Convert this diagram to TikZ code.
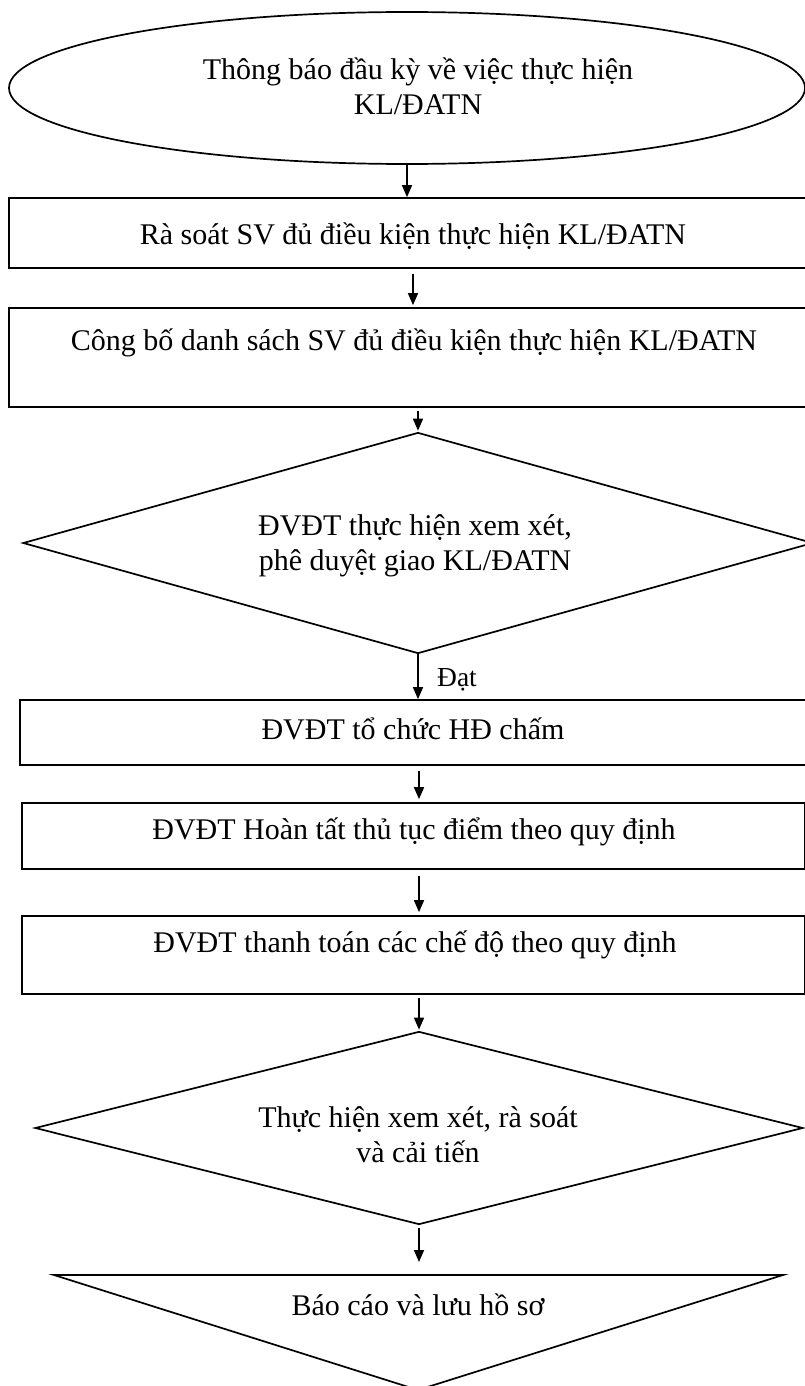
\documentclass[tikz,border=0pt]{standalone}
\usepackage{fontspec}
\setmainfont{Liberation Serif}
\usetikzlibrary{shapes.geometric,arrows.meta,calc}
\begin{document}
\begin{tikzpicture}[x=1pt,y=-1pt,
  every node/.style={font=\fontsize{30}{35}\selectfont},
  shp/.style={draw, line width=1.7, inner sep=0},
  boxst/.style={shp, rectangle},
  decis/.style={shp, diamond},
  arr/.style={-{Triangle[length=12,width=10]}, line width=1.5},
  txt/.style={align=center, inner sep=0},
  small/.style={font=\fontsize{27.5}{33}\selectfont}]
\useasboundingbox (0,0) rectangle (805,1386);

% shapes
\node[shp, ellipse, minimum width=796, minimum height=152] (e) at (407,88) {};
\node[boxst, minimum width=803, minimum height=70] (b1) at (410.5,233) {};
\node[boxst, minimum width=803, minimum height=99] (b2) at (410.5,357.5) {};
\node[decis, minimum width=790, minimum height=221] (d1) at (418,543) {};
\node[boxst, minimum width=792, minimum height=65] (b3) at (416,732.5) {};
\node[boxst, minimum width=783, minimum height=66] (b4) at (413.5,836) {};
\node[boxst, minimum width=783, minimum height=78] (b5) at (413.5,955) {};
\node[decis, minimum width=768, minimum height=193] (d2) at (419,1128) {};
\coordinate (tl) at (54,1275);
\coordinate (tr) at (783,1275);
\coordinate (tb) at (418,1390);
\coordinate (ttop) at (419,1275);
\draw[line width=1.7] (tl) -- (tr) -- (tb) -- cycle;

% texts
\node[txt] (et) at (418,86) {Thông báo đầu kỳ về việc thực hiện\\KL/ĐATN};
\node[txt] (t1) at (413,236) {Rà soát SV đủ điều kiện thực hiện KL/ĐATN};
\node[txt] (t2) at (414,343) {Công bố danh sách SV đủ điều kiện thực hiện KL/ĐATN};
\node[txt] (td1) at (415,546) {ĐVĐT thực hiện xem xét,\\phê duyệt giao KL/ĐATN};
\node[txt] (t3) at (413,729) {ĐVĐT tổ chức HĐ chấm};
\node[txt] (t4) at (414,832) {ĐVĐT Hoàn tất thủ tục điểm theo quy định};
\node[txt] (t5) at (415,945) {ĐVĐT thanh toán các chế độ theo quy định};
\node[txt] (td2) at (418,1135) {Thực hiện xem xét, rà soát\\và cải tiến};
\node[txt] (tt) at (418,1305) {Báo cáo và lưu hồ sơ};
\node[txt, small] (dat) at (457,680) {Đạt};

% connectors
\draw[arr] (e.south) -- (e.south |- b1.north);
\draw[arr] ([xshift=2.5,yshift=-5]b1.south) -- ([xshift=2.5,yshift=2]b1.south |- b2.north);
\draw[arr] ([yshift=-3]b2.south -| d1.north) -- ([yshift=1]d1.north);
\draw[arr] (d1.south) -- (d1.south |- b3.north);
\draw[arr] ([yshift=-5]b3.south -| d2.north) -- ([yshift=3]d2.north |- b4.north);
\draw[arr] ([yshift=-6]b4.south -| d2.north) -- ([yshift=3]d2.north |- b5.north);
\draw[arr] ([yshift=-3]b5.south -| d2.north) -- ([yshift=1]d2.north);
\draw[arr] ([yshift=-3]d2.south) -- ([yshift=13]ttop);
\end{tikzpicture}
\end{document}
